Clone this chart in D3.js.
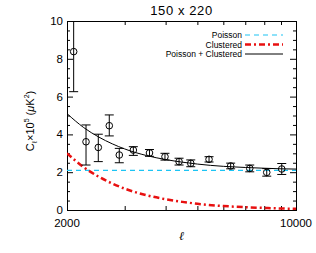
<!DOCTYPE html>
<html>
<head>
<meta charset="utf-8">
<script src="https://cdn.jsdelivr.net/npm/d3@7"></script>
<style>
  body { margin: 0; background: #fff; }
  svg { display: block; font-family: "Liberation Sans", Arial, sans-serif; }
</style>
</head>
<body>
<svg id="chart" width="316" height="253"></svg>
<script>
// Measured band powers
const ell  = [2096, 2286, 2492, 2692, 2888, 3188, 3571, 3982, 4396, 4773, 5427, 6318, 7224, 8141, 9047];
const cl   = [8.38, 3.61, 3.31, 4.46, 2.91, 3.17, 3.02, 2.82, 2.56, 2.47, 2.68, 2.33, 2.20, 1.99, 2.17];
const clHi = [10.5, 4.50, 4.01, 5.03, 3.26, 3.35, 3.20, 3.00, 2.74, 2.65, 2.82, 2.48, 2.38, 2.19, 2.46];
const clLo = [6.26, 2.38, 2.56, 3.92, 2.50, 2.89, 2.84, 2.64, 2.38, 2.29, 2.54, 2.18, 2.02, 1.79, 1.88];

// Model components
const poissonLevel = 2.1;
const modelEll  = [2000, 2250, 2500, 2750, 3000, 3500, 4000, 4500, 5000, 6000, 7000, 8000, 9000, 10000];
const clustered = [3.00, 2.26, 1.76, 1.40, 1.13, 0.78, 0.57, 0.43, 0.33, 0.21, 0.15, 0.11, 0.08, 0.065];

const xTicks = [3000, 4000, 5000, 6000, 7000, 8000, 9000];
const yTicks = [0, 2, 4, 6, 8, 10];

const legendLabels = ["Poisson", "Clustered", "Poisson + Clustered"];

var svg = d3.select("#chart");
var padding = { t: 21, r: 20, b: 43, l: 67 };
var W = +svg.attr("width"), H = +svg.attr("height");

var x = d3.scaleLog().domain([2000, 10000]).range([padding.l, W - padding.r]);
var y = d3.scaleLinear().domain([0, 10]).range([H - padding.b, padding.t]);

svg.append("clipPath").attr("id", "plotclip")
  .append("rect")
  .attr("x", x.range()[0]).attr("y", y.range()[1])
  .attr("width", x.range()[1] - x.range()[0])
  .attr("height", y.range()[0] - y.range()[1]);

// Title
svg.append("text")
  .attr("x", (x.range()[0] + x.range()[1]) / 2)
  .attr("y", 15)
  .attr("text-anchor", "middle")
  .attr("font-size", 13)
  .attr("letter-spacing", 0.6)
  .text("150 x 220");

// Axes with inward ticks
var yMinor = d3.range(0, 10.01, 0.5).filter(d => d % 2 !== 0);

svg.append("g").attr("transform", `translate(${padding.l},0)`)
  .call(d3.axisRight(y).tickValues(yTicks).tickSize(6).tickFormat(""))
  .call(g => g.select(".domain").remove());
svg.append("g").attr("transform", `translate(${padding.l},0)`)
  .call(d3.axisRight(y).tickValues(yMinor).tickSize(3).tickFormat(""))
  .call(g => g.select(".domain").remove());
svg.append("g").attr("transform", `translate(${W - padding.r},0)`)
  .call(d3.axisLeft(y).tickValues(yTicks).tickSize(6).tickFormat(""))
  .call(g => g.select(".domain").remove());
svg.append("g").attr("transform", `translate(${W - padding.r},0)`)
  .call(d3.axisLeft(y).tickValues(yMinor).tickSize(3).tickFormat(""))
  .call(g => g.select(".domain").remove());
svg.append("g").attr("transform", `translate(0,${H - padding.b})`)
  .call(d3.axisTop(x).tickValues(xTicks).tickSize(4).tickFormat(""))
  .call(g => g.select(".domain").remove());
svg.append("g").attr("transform", `translate(0,${padding.t})`)
  .call(d3.axisBottom(x).tickValues(xTicks).tickSize(4).tickFormat(""))
  .call(g => g.select(".domain").remove());

svg.append("rect")
  .attr("x", x.range()[0] + 0.5).attr("y", y.range()[1] + 0.5)
  .attr("width", x.range()[1] - x.range()[0])
  .attr("height", y.range()[0] - y.range()[1])
  .attr("fill", "none").attr("stroke", "#000").attr("stroke-width", 1);

// Tick labels
svg.append("g").selectAll("text").data(yTicks).enter().append("text")
  .attr("x", padding.l - 4)
  .attr("y", d => y(d) + 4)
  .attr("text-anchor", "end")
  .attr("font-size", 11.5)
  .text(d => d);

svg.append("g").selectAll("text").data(x.domain()).enter().append("text")
  .attr("x", d => x(d))
  .attr("y", H - padding.b + 17)
  .attr("text-anchor", "middle")
  .attr("font-size", 11.5)
  .text(d => d);

// Axis labels
svg.append("text")
  .attr("x", (x.range()[0] + x.range()[1]) / 2)
  .attr("y", 240)
  .attr("text-anchor", "middle")
  .attr("font-size", 12)
  .attr("font-style", "italic")
  .attr("font-family", "DejaVu Serif")
  .text("ℓ");

var yl = svg.append("text")
  .attr("transform", "translate(34,121) rotate(-90)")
  .attr("text-anchor", "middle")
  .attr("font-size", 11);
yl.append("tspan").text("C");
yl.append("tspan").attr("font-size", 7).attr("dy", 3).text("ℓ");
yl.append("tspan").attr("dy", -3).text("×10");
yl.append("tspan").attr("font-size", 7).attr("dy", -5).text("5");
yl.append("tspan").attr("dy", 5).text(" (");
yl.append("tspan").attr("font-style", "italic").text("μ");
yl.append("tspan").text("K");
yl.append("tspan").attr("font-size", 7).attr("dy", -5).text("2");
yl.append("tspan").attr("dy", 5).text(")");

// Model curves
var plot = svg.append("g").attr("clip-path", "url(#plotclip)");

plot.append("line")
  .attr("x1", x(2000)).attr("x2", x(10000))
  .attr("y1", y(poissonLevel)).attr("y2", y(poissonLevel))
  .attr("stroke", "#1cc4f4").attr("stroke-width", 1.2)
  .attr("stroke-dasharray", "5,4");

var modelLine = d3.line()
  .x((d, i) => x(modelEll[i]))
  .y(d => y(d))
  .curve(d3.curveMonotoneX);

plot.append("path")
  .attr("d", modelLine(clustered))
  .attr("fill", "none")
  .attr("stroke", "#e81010").attr("stroke-width", 2.5)
  .attr("stroke-dasharray", "6,3,2,3");

plot.append("path")
  .attr("d", modelLine(clustered.map(c => c + poissonLevel)))
  .attr("fill", "none")
  .attr("stroke", "#000").attr("stroke-width", 1);

// Data points with error bars
var pts = plot.selectAll(".pt").data(cl).enter().append("g").attr("class", "pt");
pts.append("line")
  .attr("x1", (d, i) => x(ell[i])).attr("x2", (d, i) => x(ell[i]))
  .attr("y1", (d, i) => y(clLo[i])).attr("y2", (d, i) => y(clHi[i]))
  .attr("stroke", "#000");
pts.append("line")
  .attr("x1", (d, i) => x(ell[i]) - 4.5).attr("x2", (d, i) => x(ell[i]) + 4.5)
  .attr("y1", (d, i) => y(clLo[i])).attr("y2", (d, i) => y(clLo[i]))
  .attr("stroke", "#000");
pts.append("line")
  .attr("x1", (d, i) => x(ell[i]) - 4.5).attr("x2", (d, i) => x(ell[i]) + 4.5)
  .attr("y1", (d, i) => y(clHi[i])).attr("y2", (d, i) => y(clHi[i]))
  .attr("stroke", "#000");
pts.append("circle")
  .attr("cx", (d, i) => x(ell[i]))
  .attr("cy", d => y(d))
  .attr("r", 3.3)
  .attr("fill", "none")
  .attr("stroke", "#000");

// Legend
var legendStyles = [
  { stroke: "#1cc4f4", width: 1.2, dash: "5,4" },
  { stroke: "#e81010", width: 2.5, dash: "6,3,2,3" },
  { stroke: "#000", width: 1, dash: null }
];
var leg = svg.append("g").selectAll("g").data(legendLabels).enter().append("g")
  .attr("transform", (d, i) => `translate(0,${35 + i * 9.5})`);
leg.append("text")
  .attr("x", 242).attr("y", 3)
  .attr("text-anchor", "end")
  .attr("font-size", 8.5)
  .text(d => d);
leg.append("line")
  .attr("x1", 245).attr("x2", 283)
  .attr("y1", 0).attr("y2", 0)
  .attr("stroke", (d, i) => legendStyles[i].stroke)
  .attr("stroke-width", (d, i) => legendStyles[i].width)
  .attr("stroke-dasharray", (d, i) => legendStyles[i].dash);
</script>
</body>
</html>
